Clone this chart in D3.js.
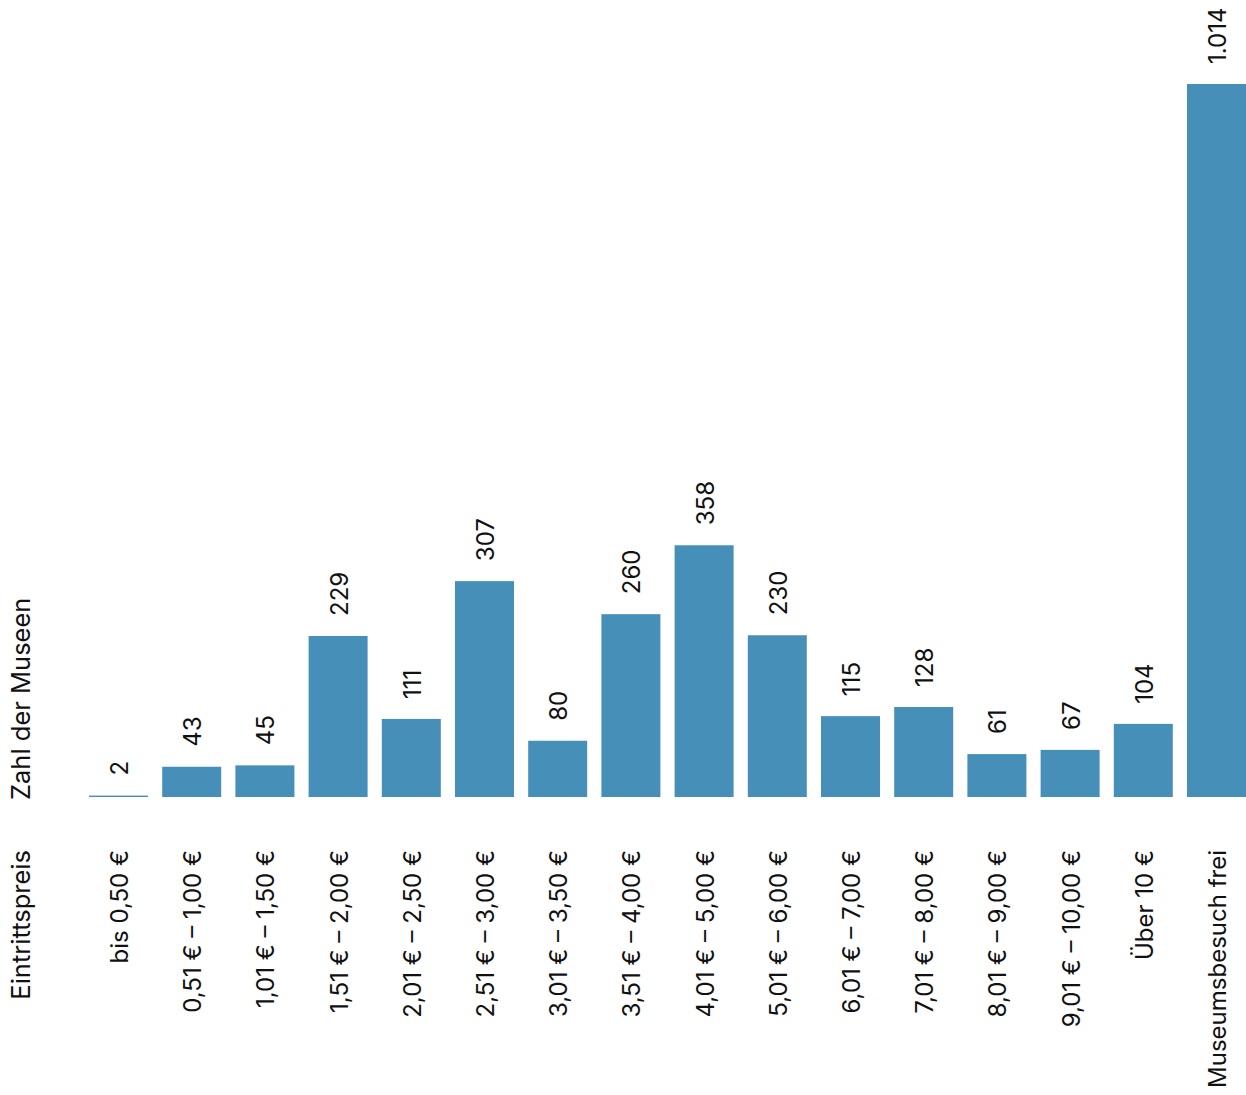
<!DOCTYPE html>
<html>
<head>
<meta charset="utf-8">
<script src="https://cdn.jsdelivr.net/npm/d3@7/dist/d3.min.js"></script>
<style>
  html, body { margin: 0; padding: 0; background: #fff; }
  svg { display: block; }
  text { font-family: Inter, "Liberation Sans", Arial, sans-serif; fill: #111; }
</style>
</head>
<body>
<svg id="chart" width="1246" height="1095"></svg>
<script>
// Admission price brackets and number of museums in each
const categories = [
  "bis 0,50 €", "0,51 € – 1,00 €", "1,01 € – 1,50 €", "1,51 € – 2,00 €",
  "2,01 € – 2,50 €", "2,51 € – 3,00 €", "3,01 € – 3,50 €", "3,51 € – 4,00 €",
  "4,01 € – 5,00 €", "5,01 € – 6,00 €", "6,01 € – 7,00 €", "7,01 € – 8,00 €",
  "8,01 € – 9,00 €", "9,01 € – 10,00 €", "Über 10 €", "Museumsbesuch frei"
];
const museums = [2, 43, 45, 229, 111, 307, 80, 260, 358, 230, 115, 128, 61, 67, 104, 1014];
const valueTitle = "Zahl der Museen";
const categoryTitle = "Eintrittspreis";

const svg = d3.select("#chart");
const baseline = 797;
const plotTop = 84;
const fontSize = 24;
const titleSize = 25.5;
const barColor = "#458fb8";

const x = d3.scaleBand()
  .domain(categories)
  .range([89, 1246])
  .paddingInner(0.194)
  .paddingOuter(0);

const y = d3.scaleLinear()
  .domain([0, d3.max(museums)])
  .range([baseline, plotTop]);

const data = categories.map((c, i) => ({ c, v: museums[i] }));
const fmt = d3.formatLocale({ decimal: ",", thousands: ".", grouping: [3], currency: ["", " €"] }).format(",d");

// bars
svg.append("g").selectAll("rect")
  .data(data)
  .join("rect")
  .attr("x", d => x(d.c))
  .attr("width", x.bandwidth())
  .attr("y", d => y(d.v))
  .attr("height", d => baseline - y(d.v))
  .attr("fill", barColor);

// value labels above each bar, rotated
svg.append("g").selectAll("text")
  .data(data)
  .join("text")
  .attr("transform", d => `translate(${x(d.c) + x.bandwidth() / 2 + 1},${y(d.v) - 20}) rotate(-90)`)
  .attr("dy", "0.35em")
  .attr("text-anchor", "start")
  .style("font-size", fontSize + "px")
  .text(d => fmt(d.v));

// category labels below the bars, rotated
svg.append("g").selectAll("text")
  .data(data)
  .join("text")
  .attr("transform", d => `translate(${x(d.c) + x.bandwidth() / 2 + 1},850) rotate(-90)`)
  .attr("dy", "0.35em")
  .attr("text-anchor", "end")
  .style("font-size", fontSize + "px")
  .text(d => d.c);

// axis titles
svg.append("text")
  .attr("transform", `translate(21,800) rotate(-90)`)
  .attr("dy", "0.35em")
  .attr("text-anchor", "start")
  .style("font-size", titleSize + "px")
  .text(valueTitle);

svg.append("text")
  .attr("transform", `translate(21,850) rotate(-90)`)
  .attr("dy", "0.35em")
  .attr("text-anchor", "end")
  .style("font-size", titleSize + "px")
  .text(categoryTitle);
</script>
</body>
</html>
